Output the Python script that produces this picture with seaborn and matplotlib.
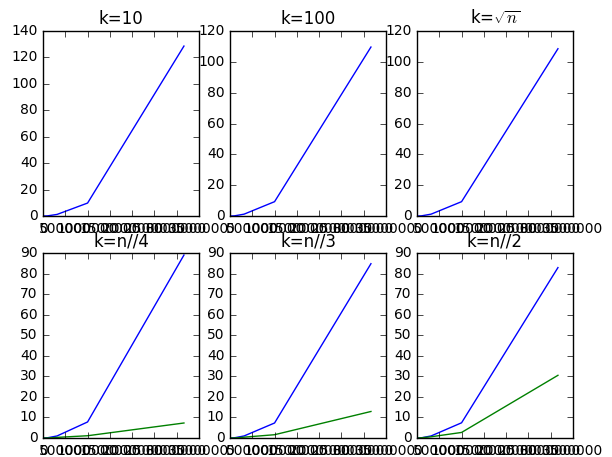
import matplotlib
matplotlib.use("Agg")
import matplotlib.pyplot as plt
import seaborn as sns
import pandas as pd

plt.style.use("classic")

# Data
n = [1000, 10000, 100000, 316228, 1000000, 3162278]
titles = ["k=10", "k=100", r"k=$\sqrt{n}$", "k=n//4", "k=n//3", "k=n//2"]
blue_k10 = [0.0, 0.0, 0.1, 1.2, 9.8, 128.6]
blue_k100 = [0.0, 0.0, 0.1, 1.2, 9.3, 109.6]
blue_sqrt = [0.0, 0.0, 0.1, 1.2, 9.3, 108.5]
blue_n4 = [0.0, 0.0, 0.1, 1.0, 7.8, 89.0]
blue_n3 = [0.0, 0.0, 0.1, 1.0, 7.3, 84.8]
blue_n2 = [0.0, 0.0, 0.1, 1.0, 7.4, 82.9]
green_n4 = [0.0, 0.0, 0.0, 0.3, 1.1, 7.3]
green_n3 = [0.0, 0.0, 0.0, 0.4, 1.6, 12.9]
green_n2 = [0.0, 0.0, 0.1, 0.6, 2.7, 30.5]

blues = [blue_k10, blue_k100, blue_sqrt, blue_n4, blue_n3, blue_n2]
greens = [None, None, None, green_n4, green_n3, green_n2]

fig = plt.figure(figsize=(6.12, 4.57), dpi=100, facecolor="white")
plt.rcParams["font.size"] = 10

W = 156 / 612
H = 185 / 457
lefts = [43 / 612, 230 / 612, 417 / 612]
bottoms = [1 - 216 / 457, 1 - 438 / 457]

for i in range(6):
    r, c = divmod(i, 3)
    ax = fig.add_axes([lefts[c], bottoms[r], W, H])
    df = pd.DataFrame({"n": n, "t": blues[i]})
    sns.lineplot(data=df, x="n", y="t", ax=ax, color="b", linewidth=1.0)
    if greens[i] is not None:
        dg = pd.DataFrame({"n": n, "t": greens[i]})
        sns.lineplot(data=dg, x="n", y="t", ax=ax, color="g", linewidth=1.0)
    ax.set_xlabel("")
    ax.set_ylabel("")
    ax.set_xlim(0, 3500000)
    ax.set_title(titles[i], fontsize=12)
    ax.tick_params(labelsize=10)

fig.savefig("out.png", dpi=100, facecolor="white")
